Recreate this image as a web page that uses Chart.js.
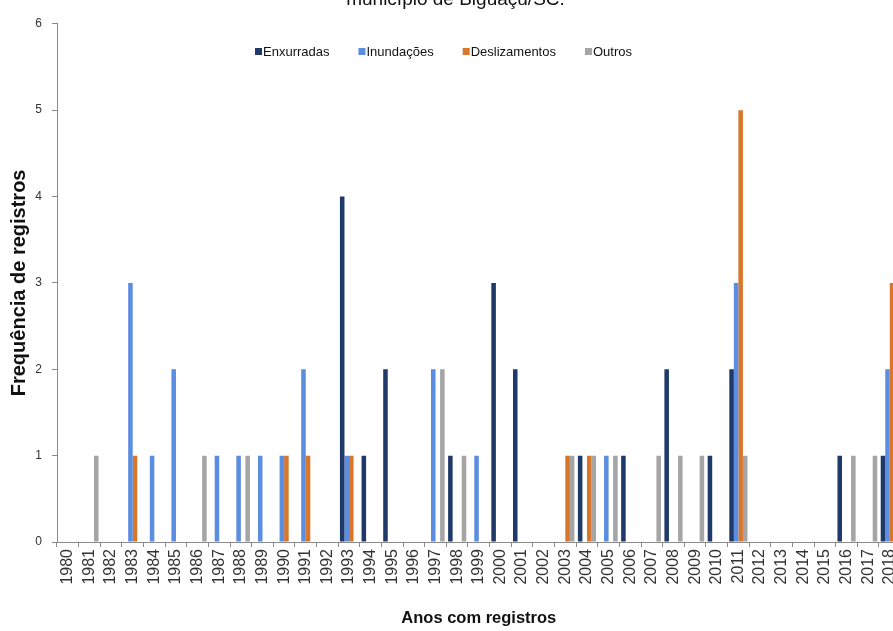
<!DOCTYPE html>
<html>
<head>
<meta charset="utf-8">
<script src="https://cdn.jsdelivr.net/npm/chart.js@4.4.1/dist/chart.umd.min.js"></script>
<style>
  html, body { margin: 0; padding: 0; background: #fff; overflow: hidden; }
  #wrap { position: relative; width: 893px; height: 631px; overflow: hidden; }
  #box { position: absolute; left: 0; top: -19px; width: 911px; height: 650px; }
</style>
</head>
<body>
<div id="wrap"><div id="box"><canvas id="chart"></canvas></div></div>
<script>
const years = ['1980','1981','1982','1983','1984','1985','1986','1987','1988','1989',
  '1990','1991','1992','1993','1994','1995','1996','1997','1998','1999',
  '2000','2001','2002','2003','2004','2005','2006','2007','2008','2009',
  '2010','2011','2012','2013','2014','2015','2016','2017','2018'];

const enxurradas = [0,0,0,0,0,0,0,0,0,0, 0,0,0,4,1,2,0,0,1,0, 3,2,0,0,1,0,1,0,2,0, 1,2,0,0,0,0,1,0,1];
const inundacoes = [0,0,0,3,1,2,0,1,1,1, 1,2,0,1,0,0,0,2,0,1, 0,0,0,0,0,1,0,0,0,0, 0,3,0,0,0,0,0,0,2];
const deslizamentos = [0,0,0,1,0,0,0,0,0,0, 1,1,0,1,0,0,0,0,0,0, 0,0,0,1,1,0,0,0,0,0, 0,5,0,0,0,0,0,0,3];
const outros = [0,1,0,0,0,0,1,0,1,0, 0,0,0,0,0,0,0,2,1,0, 0,0,0,1,1,1,0,1,1,1, 0,1,0,0,0,0,1,1,0];

const seriesNames = ['Enxurradas', 'Inundações', 'Deslizamentos', 'Outros'];
const yTicks = [0, 1, 2, 3, 4, 5, 6];

// legend drawn inside the plot, a bit left of centre like the original
const insideLegend = {
    id: 'insideLegend',
    afterDraw(chart) {
        const ctx = chart.ctx;
        ctx.save();
        ctx.font = '13px "Liberation Sans", Arial, sans-serif';
        ctx.textBaseline = 'middle';
        let x = 255;
        const y = 71;
        chart.data.datasets.forEach(ds => {
            ctx.fillStyle = ds.backgroundColor;
            ctx.fillRect(x, y - 4, 7, 7);
            ctx.fillStyle = '#111';
            ctx.fillText(ds.label, x + 8, y);
            x += 8 + ctx.measureText(ds.label).width + 29;
        });
        ctx.restore();
    }
};

const ctx = document.getElementById('chart');

new Chart(ctx, {
    type: 'bar',
    data: {
        labels: years,
        datasets: [
            { label: seriesNames[0], data: enxurradas, backgroundColor: '#1f3a68' },
            { label: seriesNames[1], data: inundacoes, backgroundColor: '#5b8de0' },
            { label: seriesNames[2], data: deslizamentos, backgroundColor: '#d8762b' },
            { label: seriesNames[3], data: outros, backgroundColor: '#a5a5a5' }
        ]
    },
    options: {
        responsive: true,
        maintainAspectRatio: false,
        animation: false,
        categoryPercentage: 0.84,
        barPercentage: 1,
        layout: { padding: { top: 7, right: 0, left: 0, bottom: 0 } },
        plugins: {
            legend: { display: false },
            tooltip: { enabled: false },
            title: {
                display: true,
                text: 'município de Biguaçu/SC.',
                color: '#111',
                font: { family: '"Liberation Sans", Arial, sans-serif', size: 19, weight: 'normal' },
                padding: { top: 0, bottom: 13 }
            }
        },
        scales: {
            x: {
                grid: { display: true, drawOnChartArea: false, tickLength: 5, color: '#8a8a8a', offset: true },
                border: { color: '#8a8a8a' },
                ticks: {
                    autoSkip: false,
                    maxRotation: 90,
                    minRotation: 90,
                    color: '#333',
                    padding: 2,
                    font: { family: '"Liberation Sans", Arial, sans-serif', size: 16 }
                },
                title: {
                    display: true,
                    text: 'Anos com registros',
                    color: '#111',
                    font: { family: '"Liberation Sans", Arial, sans-serif', size: 16.5, weight: 'bold' },
                    padding: { top: 0, bottom: 3 }
                },
                afterFit(scale) { scale.height = 89; }
            },
            y: {
                min: 0,
                max: 6,
                afterBuildTicks(scale) { scale.ticks = yTicks.map(v => ({ value: v })); },
                grid: { display: true, drawOnChartArea: false, tickLength: 5, color: '#8a8a8a' },
                border: { color: '#8a8a8a' },
                ticks: {
                    color: '#333',
                    padding: 10,
                    font: { family: '"Liberation Sans", Arial, sans-serif', size: 12 }
                },
                title: {
                    display: true,
                    text: 'Frequência de registros',
                    color: '#111',
                    font: { family: '"Liberation Sans", Arial, sans-serif', size: 20, weight: 'bold' },
                    padding: { top: 7, bottom: 0 }
                },
                afterFit(scale) { scale.width = 57; }
            }
        }
    },
    plugins: [insideLegend]
});
</script>
</body>
</html>
